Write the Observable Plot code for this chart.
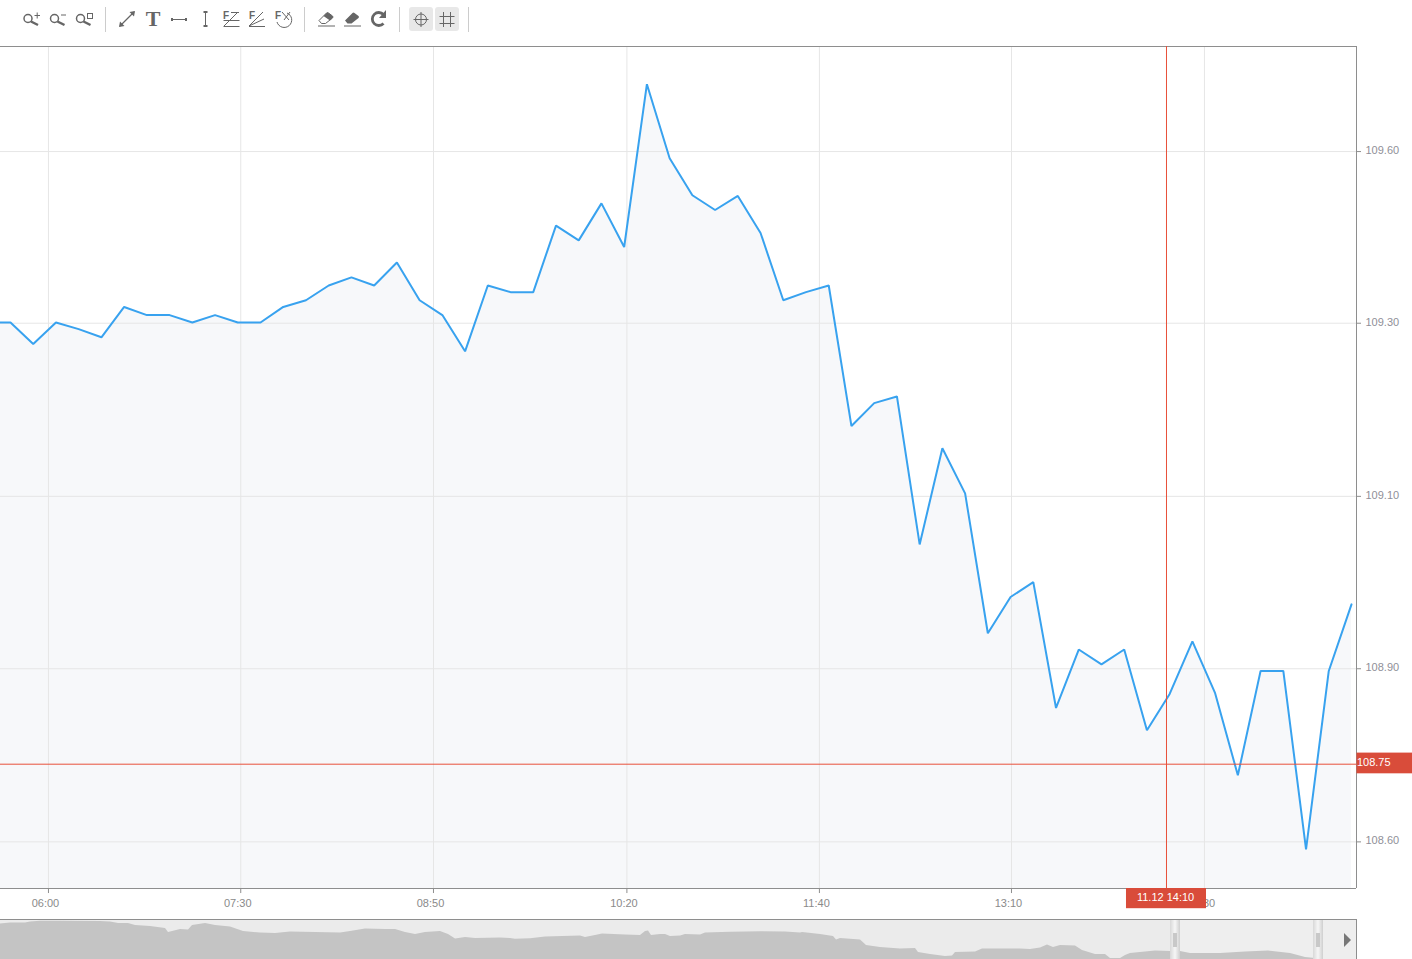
<!DOCTYPE html>
<html>
<head>
<meta charset="utf-8">
<script src="https://cdn.jsdelivr.net/npm/d3@7"></script>
<script src="https://cdn.jsdelivr.net/npm/@observablehq/plot@0.6"></script>
<style>
html,body{margin:0;padding:0;background:#fff;width:1412px;height:959px;overflow:hidden}
#toolbar,#main,#nav{position:absolute;left:0}
#toolbar{top:0}
#main{top:46px}
#nav{top:919px}
svg{display:block}
</style>
</head>
<body>
<div id="toolbar"></div>
<div id="main"></div>
<div id="nav"></div>
<script>
// Price series, one value per 10-minute bar (the first bar starts off the left edge)
const prices = [109.347,109.347,109.318,109.347,109.338,109.327,109.368,109.357,109.357,109.347,109.357,
  109.347,109.347,109.368,109.377,109.397,109.408,109.397,109.428,109.377,109.357,
  109.308,109.397,109.388,109.388,109.478,109.458,109.508,109.449,109.669,109.569,
  109.519,109.499,109.518,109.468,109.377,109.388,109.397,109.207,109.238,109.247,
  109.047,109.177,109.116,108.927,108.976,108.996,108.826,108.905,108.885,108.905,
  108.796,108.845,108.916,108.846,108.735,108.876,108.876,108.635,108.876,108.966];
const firstBar = -1;

const xTickBars = [1.67,10.13,18.61,27.12,35.59,44.04,52.53];
const xTickLabels = ["06:00","07:30","08:50","10:20","11:40","13:10","14:30"];
const yTickValues = [109.578,109.346,109.112,108.879,108.645];
const yTickLabels = ["109.60","109.30","109.10","108.90","108.60"];

const cursorBar = 50.86;
const cursorPrice = 108.75;
const cursorPriceLabel = "108.75";
const cursorTimeLabel = "11.12 14:10";

// Overview strip: position along the strip and silhouette level
const navPos = [0,10,25,30,40,60,100,110,118,128,135,150,165,168,180,188,192,205,215,230,243,260,275,290,340,
  350,365,385,395,405,415,425,440,448,455,465,475,500,510,515,530,545,580,585,595,602,625,640,645,648,651,660,665,670,680,
  685,700,705,730,760,785,800,802,820,833,836,840,860,866,880,900,915,918,930,945,952,955,975,982,1020,
  1030,1040,1047,1053,1060,1075,1082,1095,1105,1110,1120,1125,1130,1140,1155,1170,1180,1190,1220,1245,1268,1290,1305,1315];
const navLevel = [35.5,36.5,36.5,37.5,38.2,38.2,38,37.5,36,36,34,33,31,27,30,29.5,34,36,34,32.5,28,26.5,26,27.5,26.5,
  28,30.5,30,30,27,25,27,28,25,20.5,22,21,21.5,21,20.3,20.7,22.5,23.5,22,24,25.5,24.5,24,28,28.5,24,25,25,23,23.5,
  25,24.5,26.5,27.2,27.7,27.5,26.5,27,25,23,19.5,21,19.5,14,12,10.5,11,7,5,3,3.5,7,7.5,10.5,10.5,
  10,11.5,14.5,12,14,13.5,9,5,5,1,1,4,6,7,8.5,8,8,6,6,7.5,8.5,6,2,1];

const font = '"Liberation Sans", Arial, sans-serif';
const priceTable = prices.map((price, i) => ({bar: firstBar + i, price}));
const navTable = navPos.map((pos, i) => ({pos, level: navLevel[i]}));

const xDomain = [-0.44, 59.22];
const yDomain = [108.582, 109.72];
const gridColor = "#e6e6e6", borderColor = "#8e8e8e", red = "#e8503a", redBox = "#d94c3a";

const main = Plot.plot({
  width: 1412, height: 873,
  marginTop: 0, marginBottom: 31, marginLeft: 0, marginRight: 56,
  style: {fontFamily: font, fontSize: "11px", background: "transparent"},
  x: {domain: xDomain, axis: null},
  y: {domain: yDomain, axis: null},
  marks: [
    Plot.areaY(priceTable, {x: "bar", y1: yDomain[0], y2: "price", fill: "#f7f8fa", clip: true}),
    Plot.ruleX(xTickBars, {stroke: gridColor}),
    Plot.ruleY(yTickValues, {stroke: gridColor}),
    Plot.lineY(priceTable, {x: "bar", y: "price", stroke: "#38a2ef", strokeWidth: 2, strokeLinejoin: "miter", clip: true}),
    Plot.ruleY([yDomain[1], yDomain[0]], {stroke: borderColor}),
    Plot.ruleX([xDomain[1]], {stroke: borderColor}),
    Plot.ruleX(xTickBars, {y1: 108.5752, y2: yDomain[0], stroke: borderColor}),
    Plot.ruleY(yTickValues, {x1: xDomain[1], x2: 59.44, stroke: borderColor}),
    Plot.axisX({anchor: "bottom", ticks: xTickBars, tickSize: 0, tickPadding: 11, color: "#8a8a8a", dx: -3, label: null,
      tickFormat: (d, i) => xTickLabels[i]}),
    Plot.axisY({anchor: "right", ticks: yTickValues, tickSize: 0, tickPadding: 9, color: "#8f8f98", dy: -1, label: null,
      tickFormat: (d, i) => yTickLabels[i]}),
    Plot.ruleX([cursorBar], {stroke: red}),
    Plot.ruleY([cursorPrice], {stroke: red}),
    Plot.rect([0], {x1: 49.1, x2: 52.62, y1: 108.5547, y2: yDomain[0], fill: redBox}),
    Plot.text([cursorTimeLabel], {x: 50.82, y: 108.5686, text: d => d, fill: "#fff", fontSize: 11, textAnchor: "middle", dy: -1}),
    Plot.rect([0], {x1: 59.24, x2: 61.7, y1: 108.737, y2: 108.765, fill: redBox}),
    Plot.text([cursorPriceLabel], {x: 59.24, y: 108.75, text: d => d, fill: "#fff", fontSize: 11, textAnchor: "start", dx: 0, dy: -2})
  ]
});
document.getElementById("main").appendChild(main);

const navBg = "#ebebeb", navWindow = "#eeeeee", navShape = "#c4c4c4";
const handles = [[1170,1180],[1313,1323]];
const nav = Plot.plot({
  width: 1412, height: 40,
  marginTop: 0, marginBottom: 0, marginLeft: 0, marginRight: 56,
  x: {domain: [0,1356], axis: null},
  y: {domain: [0,40], axis: null},
  marks: [
    Plot.rect([0], {x1: 0, x2: 1356, y1: 0, y2: 40, fill: navBg}),
    Plot.rect([0], {x1: 1180, x2: 1356, y1: 0, y2: 40, fill: navWindow}),
    Plot.areaY(navTable, {x: "pos", y1: 0, y2: "level", fill: navShape}),
    Plot.rect(handles, {x1: d => d[0], x2: d => d[1], y1: 0, y2: 39, fill: "url(#handleGrad)"}),
    Plot.rect(handles, {x1: d => d[0] + 3, x2: d => d[0] + 7, y1: 12, y2: 26, fill: "#c8c8c8"}),
    Plot.areaY([{p:1344,a:12,b:26},{p:1351,a:19,b:19}], {x: "p", y1: "a", y2: "b", fill: "#777"}),
    Plot.ruleY([40], {stroke: borderColor}),
    Plot.ruleX([1356], {stroke: borderColor})
  ]
});
d3.select(nav).append("defs").html(
  '<linearGradient id="handleGrad" x1="0" x2="1" y1="0" y2="0">' +
  '<stop offset="0" stop-color="#d8d8d8"/><stop offset="0.5" stop-color="#f6f6f6"/><stop offset="1" stop-color="#cfcfcf"/></linearGradient>');
document.getElementById("nav").appendChild(nav);

// Toolbar icons
const c = "#666";
const mag = (x, extra) => `<g fill="none" stroke="${c}"><circle cx="${x}" cy="18.5" r="4" stroke-width="1.5"/><path d="M${x+3},21.5 L${x+10},25" stroke-width="2.4"/>${extra}</g>`;
const sep = x => `<path d="M${x+.5},7V32" stroke="#ccc" stroke-width="1"/>`;
const fz = (x, body) => `<text x="${x-9}" y="19" font-family="${font.replace(/"/g,"'")}" font-size="10" font-weight="bold" fill="${c}">F</text><g fill="none" stroke="${c}" stroke-width="1">${body}</g>`;
document.getElementById("toolbar").innerHTML = `<svg width="1412" height="46">
${mag(28,`<path d="M34.5,15.5h5.5M37.2,12.5v6" stroke-width="1"/>`)}
${mag(54.5,`<path d="M61,15h5" stroke-width="1"/>`)}
${mag(80.5,`<rect x="87.5" y="13.5" width="5" height="5" stroke-width="1"/>`)}
${sep(105)}
<g stroke="${c}" fill="${c}"><path d="M120,26L134,12" stroke-width="1.2" fill="none"/><path d="M135,11l-5.5,1l4.5,4.5zM119,27l5.5,-1l-4.5,-4.5z" stroke="none"/></g>
<text x="153" y="26" text-anchor="middle" font-family="'Liberation Serif',serif" font-size="22" font-weight="bold" fill="${c}">T</text>
<g stroke="${c}"><path d="M171,19.5H187" stroke-width="1"/><path d="M172,18v3M186,18v3" stroke-width="2"/><path d="M205.5,12V26" stroke-width="1"/><path d="M203.5,12h4M203.5,26h4" stroke-width="2"/></g>
${fz(232,`<path d="M223.5,20.5h16M223.5,26.5h16M224,26L238,12M231,12.5h8"/>`)}
${fz(258,`<path d="M249,26.5H265M249,26L263,12M249,26L264,19"/>`)}
${fz(284,`<path d="M287,13a7.5,7.5 0 1 1 -10,9M282,12l7,8M290,12l-6,8"/>`)}
${sep(304)}
<g fill="${c}" stroke="${c}"><path d="M319,20.5l7.5,-7.5q1,-1 2,0l4,3q1,1 0,2l-7,5.5h-4z" fill="none" stroke-width="1"/><path d="M323.5,16l3,-3q1,-1 2,0l4,3q1,1 0,2l-2.5,2.5z" stroke="none"/><path d="M318,26h17" stroke-width="1"/></g>
<g fill="${c}" stroke="${c}"><path d="M345,20.5l7.5,-7.5q1,-1 2,0l4,3q1,1 0,2l-7,5.5h-4z" stroke="none"/><path d="M344,26h17" stroke-width="1"/></g>
<g><path d="M383.5,14.5a6.5,6.5 0 1 0 0,9" fill="none" stroke="${c}" stroke-width="2.8"/><path d="M386,10v8h-7z" fill="${c}"/></g>
${sep(399)}
<rect x="409" y="7" width="24" height="24" rx="3" fill="#e8e8e8"/>
<rect x="435" y="7" width="24" height="24" rx="3" fill="#e8e8e8"/>
<g fill="none" stroke="${c}" stroke-width="1"><circle cx="421" cy="19.5" r="5.5"/><path d="M421,12V27M413.5,19.5H428.5"/><path d="M443.5,12V27M450.5,12V27M439.5,16.5H454.5M439.5,23.5H454.5"/></g>
${sep(468)}
</svg>`;
</script>
</body>
</html>
